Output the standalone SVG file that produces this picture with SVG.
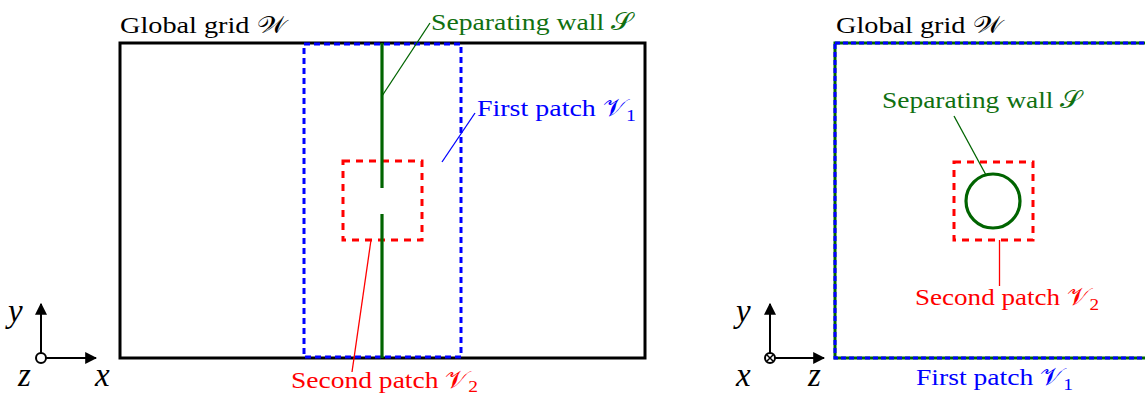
<svg xmlns="http://www.w3.org/2000/svg" width="1145" height="396" viewBox="0 0 1145 396">
<style>
text{font-size:24px;font-family:"Liberation Serif","DejaVu Serif",serif}
.ax{font-style:italic;font-size:33px}
.k{fill:#000}.g{fill:#107010}.b{fill:#0000ff}.r{fill:#ff0000}
.box{fill:none;stroke:#000;stroke-width:3}
.bd{fill:none;stroke:#0000ff;stroke-width:3;stroke-dasharray:6 4}
.rd{fill:none;stroke:#ff0000;stroke-width:3;stroke-dasharray:7 6}
.wall{fill:none;stroke:#006400;stroke-width:3.2}
.lg{stroke:#006400;stroke-width:1.3}
.lb{stroke:#0000ff;stroke-width:1.3}
.lr{stroke:#ff0000;stroke-width:1.3}
.arr{stroke:#000;stroke-width:2;fill:none}
</style>
<defs>
<marker id="ah" viewBox="0 0 10 10" refX="9" refY="5" markerWidth="6" markerHeight="6" orient="auto" markerUnits="strokeWidth">
<path d="M0,0 L10,5 L0,10 Z" fill="#000"/>
</marker>
</defs>
<g id="left-grid">
<rect class="box" x="120" y="43" width="525" height="315"/>
<text class="k" x="120" y="33" textLength="166" lengthAdjust="spacingAndGlyphs">Global grid 𝒲</text>
</g>
<g id="left-patch1">
<rect class="bd" x="304" y="44" width="157" height="313"/>
<text class="b" x="477" y="116" textLength="159" lengthAdjust="spacingAndGlyphs">First patch 𝒱<tspan font-size="17" dy="5">1</tspan></text>
</g>
<g id="left-patch2">
<rect class="rd" x="343" y="161" width="79" height="79"/>
<text class="r" x="291" y="388" textLength="187" lengthAdjust="spacingAndGlyphs">Second patch 𝒱<tspan font-size="17" dy="4">2</tspan></text>
</g>
<g id="left-wall">
<line class="wall" x1="382" y1="43" x2="382" y2="188"/>
<line class="wall" x1="382" y1="214" x2="382" y2="358"/>
<text class="g" x="431" y="30" textLength="202" lengthAdjust="spacingAndGlyphs">Separating wall 𝒮</text>
</g>
<g id="left-axes">
<line class="arr" x1="41" y1="358" x2="41" y2="304" marker-end="url(#ah)"/>
<line class="arr" x1="41" y1="358" x2="96" y2="358" marker-end="url(#ah)"/>
<circle cx="41" cy="358" r="5" fill="#fff" stroke="#000" stroke-width="2"/>
<text class="ax" x="8" y="322">y</text>
<text class="ax" x="18" y="386">z</text>
<text class="ax" x="95" y="386">x</text>
</g>

<g id="right-grid">
<rect fill="none" stroke="#006400" stroke-width="3" x="835" y="43" width="320" height="315"/>
<rect class="bd" x="835" y="43" width="320" height="315" style="stroke-dasharray:5 3"/>
<text class="k" x="836" y="33" textLength="166" lengthAdjust="spacingAndGlyphs">Global grid 𝒲</text>
<text class="b" x="916" y="385" textLength="157" lengthAdjust="spacingAndGlyphs">First patch 𝒱<tspan font-size="17" dy="5">1</tspan></text>
</g>
<g id="right-patch2">
<rect class="rd" x="954" y="162" width="79" height="78"/>
<text class="r" x="915" y="305" textLength="184" lengthAdjust="spacingAndGlyphs">Second patch 𝒱<tspan font-size="17" dy="5">2</tspan></text>
</g>
<g id="right-wall">
<circle class="wall" cx="993" cy="201" r="27"/>
<text class="g" x="882" y="108" textLength="200" lengthAdjust="spacingAndGlyphs">Separating wall 𝒮</text>
</g>
<g id="right-axes">
<line class="arr" x1="770" y1="358" x2="770" y2="304" marker-end="url(#ah)"/>
<line class="arr" x1="770" y1="358" x2="824" y2="358" marker-end="url(#ah)"/>
<circle cx="770" cy="358" r="5" fill="#fff" stroke="#000" stroke-width="2"/>
<path d="M766.5,354.5 L773.5,361.5 M773.5,354.5 L766.5,361.5" stroke="#000" stroke-width="1.5"/>
<text class="ax" x="736" y="322">y</text>
<text class="ax" x="736" y="386">x</text>
<text class="ax" x="808" y="386">z</text>
</g>

<g id="connectors">
<line class="lg" x1="382" y1="96" x2="430" y2="23"/>
<line class="lb" x1="442" y1="162" x2="475" y2="113"/>
<line class="lr" x1="371" y1="240" x2="352" y2="372"/>
<line class="lg" x1="954" y1="116" x2="986" y2="175"/>
<line class="lr" x1="999.5" y1="240" x2="999.5" y2="286"/>
</g>
</svg>
